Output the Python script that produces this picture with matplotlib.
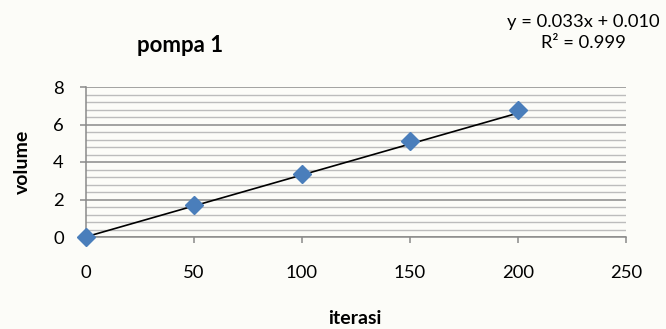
import numpy as np
import matplotlib.pyplot as plt
from matplotlib.ticker import MultipleLocator

# data pompa 1
iterasi = [0, 50, 100, 150, 200]
volume = [0.0, 1.70, 3.36, 5.13, 6.77]

# koefisien trendline linear
slope = 0.033
intercept = 0.010
r2 = 0.999

x_ticks = [0, 50, 100, 150, 200, 250]
y_ticks = [0, 2, 4, 6, 8]

plt.rcParams['font.family'] = ['Lato', 'DejaVu Sans']
bg = '#fcfcf8'

W, H = 666, 329
fig = plt.figure(figsize=(W / 100, H / 100), dpi=100, facecolor=bg)
ax = fig.add_axes([86 / W, 1 - 237 / H, 540 / W, 150 / H], facecolor=bg)

# garis grid mayor dan minor
ax.yaxis.set_minor_locator(MultipleLocator(0.4))
ax.grid(axis='y', which='major', color='#8a8a8a', linewidth=1.1, zorder=0)
ax.grid(axis='y', which='minor', color='#bcbcbc', linewidth=1.0, zorder=0)
ax.tick_params(axis='y', which='minor', length=0)

# trendline
xt = np.array([iterasi[0], iterasi[-1]])
ax.plot(xt, slope * xt + intercept, color='black', linewidth=1.2, zorder=3)

# titik data
ax.plot(iterasi, volume, linestyle='none', marker='D', markersize=8.7,
        color='#4a7ebb', markeredgecolor='#4a7ebb', zorder=4, clip_on=False)

ax.set_xlim(0, 250)
ax.set_ylim(0, 8)
ax.set_xticks(x_ticks)
ax.set_yticks(y_ticks)

for s in ['top', 'right']:
    ax.spines[s].set_visible(False)
for s in ['left', 'bottom']:
    ax.spines[s].set_color('#8a8a8a')
    ax.spines[s].set_linewidth(1.1)

ax.tick_params(axis='x', which='major', length=4.3, width=1.1, color='#8a8a8a',
               labelsize=13.3, pad=15.5)
ax.tick_params(axis='y', which='major', length=4.3, width=1.1, color='#8a8a8a',
               labelsize=13.3, pad=11.7)

# judul sumbu
fig.text(355 / W, 1 - 319 / H, 'iterasi', fontsize=14, fontweight='bold',
         ha='center', va='center')
fig.text(22 / W, 1 - 162 / H, 'volume', fontsize=14, fontweight='bold',
         ha='center', va='center', rotation=90)

fig.text(180 / W, 1 - 45 / H, 'pompa 1', fontsize=16, fontweight='bold',
         ha='center', va='center')

# persamaan trendline
fig.text(583 / W, 1 - 22 / H, f'y = {slope:.3f}x + {intercept:.3f}',
         fontsize=13.2, ha='center', va='center')
fig.text(583 / W, 1 - 43 / H, f'R² = {r2:.3f}',
         fontsize=13.2, ha='center', va='center')

fig.savefig('out.png', dpi=100, facecolor=bg)
